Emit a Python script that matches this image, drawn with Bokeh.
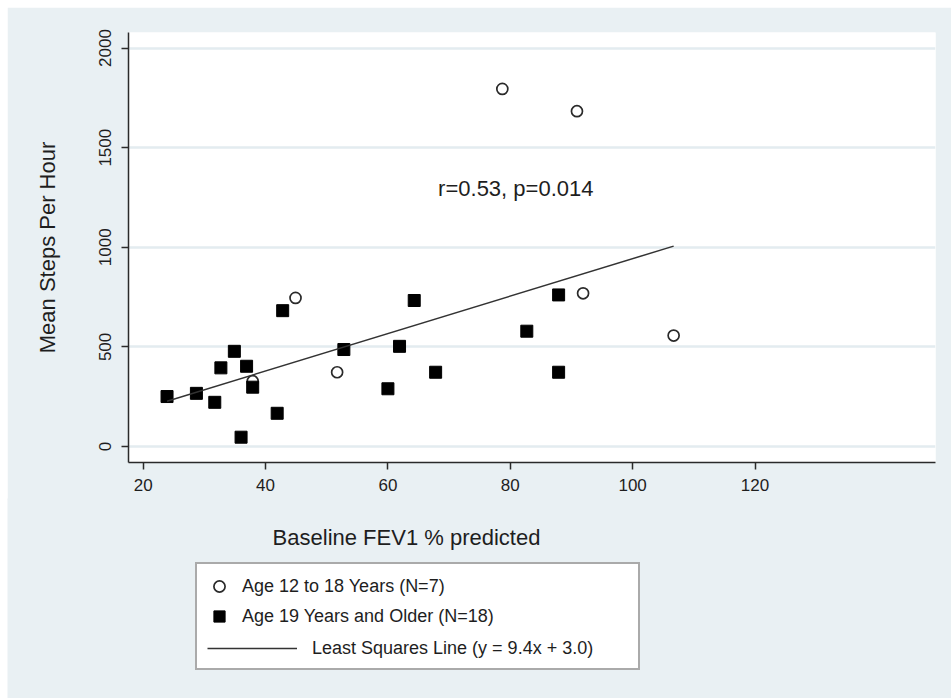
from bokeh.plotting import figure
from bokeh.layouts import column
from bokeh.models import Range1d, FixedTicker, Label, Legend, LegendItem
from bokeh.embed import file_html
from bokeh.resources import INLINE

# ---- data ----
teen_fev1 = [78.7, 90.9, 44.9, 51.7, 91.9, 106.7, 37.9]
teen_steps = [1795, 1683, 746, 373, 769, 557, 328]
adult_fev1 = [23.9, 28.7, 31.7, 32.7, 34.9, 36.0, 36.9, 37.9, 41.9, 42.8,
              52.8, 60.0, 61.9, 64.3, 67.8, 82.7, 87.9, 87.9]
adult_steps = [251, 267, 222, 395, 478, 47, 403, 298, 167, 682,
               487, 290, 503, 733, 373, 579, 761, 373]
slope = 9.4
intercept = 3.0
x_ticks = [20, 40, 60, 80, 100, 120]
y_ticks = [0, 500, 1000, 1500, 2000]
label_teen = "Age 12 to 18 Years (N=7)"
label_adult = "Age 19 Years and Older (N=18)"
label_fit = "Least Squares Line (y = 9.4x + 3.0)"
annotation_text = "r=0.53, p=0.014"
x_title = "Baseline FEV1 % predicted"
y_title = "Mean Steps Per Hour"

all_x = teen_fev1 + adult_fev1
fit_x = [min(all_x), max(all_x)]
fit_y = [slope * v + intercept for v in fit_x]

FONT = "Liberation Sans"
BG = "#e9f0f3"
INK = "#1e1e1e"

teen_style = dict(marker="circle", size=11, fill_color="white",
                  line_color="#2a2a2a", line_width=1.7)
adult_style = dict(marker="square", size=12, fill_color="black",
                   line_color="black", line_width=1)
fit_style = dict(line_color="#333333", line_width=1.5)

# ---------------- main plot ----------------
p = figure(width=944, height=493,
           x_range=Range1d(17.6, 149.5), y_range=Range1d(-80, 2078),
           output_backend="svg", toolbar_location=None,
           min_border_left=121, min_border_right=16,
           min_border_top=25, min_border_bottom=38,
           background_fill_color="white", border_fill_color=BG,
           outline_line_color=None)
p.margin = (7, 0, 0, 7)
p.frame_align = False

p.xaxis.ticker = FixedTicker(ticks=x_ticks)
p.yaxis.ticker = FixedTicker(ticks=y_ticks)
for ax in (p.xaxis[0], p.yaxis[0]):
    ax.axis_line_color = "#2a2a2a"
    ax.axis_line_width = 1.5
    ax.major_tick_line_color = "#2a2a2a"
    ax.major_tick_line_width = 1.5
    ax.major_tick_out = 7
    ax.major_tick_in = 0
    ax.minor_tick_line_color = None
    ax.major_label_text_font = FONT
    ax.major_label_text_font_size = "17px"
    ax.major_label_text_color = INK
p.xaxis.major_label_standoff = 9
p.yaxis.major_label_standoff = 10
p.yaxis.major_label_orientation = "vertical"
p.yaxis.axis_label = y_title
p.yaxis.axis_label_text_font = FONT
p.yaxis.axis_label_text_font_size = "22px"
p.yaxis.axis_label_text_font_style = "normal"
p.yaxis.axis_label_text_color = INK
p.yaxis.axis_label_standoff = 37

p.xgrid.grid_line_color = None
p.ygrid.ticker = FixedTicker(ticks=y_ticks)
p.ygrid.grid_line_color = "#e3ecf0"
p.ygrid.grid_line_width = 2.5

p.scatter(teen_fev1, teen_steps, **teen_style)
p.scatter(adult_fev1, adult_steps, **adult_style)
p.line(fit_x, fit_y, **fit_style)

p.add_layout(Label(x=80.9, y=1293, text=annotation_text, text_align="center",
                   text_baseline="alphabetic", text_font=FONT,
                   text_font_size="22px", text_color=INK))

# ---------------- lower panel: x title + legend ----------------
q = figure(width=944, height=200, x_range=Range1d(0, 944), y_range=Range1d(0, 200),
           output_backend="svg", toolbar_location=None, min_border=0,
           min_border_left=0, min_border_right=0, min_border_top=0, min_border_bottom=0,
           x_axis_location=None, y_axis_location=None,
           background_fill_color=BG, border_fill_color=BG, outline_line_color=None)
q.margin = (-2, 0, 0, 7)
q.frame_align = False
q.xgrid.visible = False
q.ygrid.visible = False

q.add_layout(Label(x=399, y=161, text=x_title, text_align="center",
                   text_baseline="alphabetic", text_font=FONT,
                   text_font_size="22px", text_color=INK))

# legend-only copies of the series (hidden in this panel)
k_teen = q.scatter(teen_fev1, teen_steps, visible=False, **teen_style)
k_adult = q.scatter(adult_fev1, adult_steps, visible=False, **adult_style)
k_fit = q.line(fit_x, fit_y, visible=False, **fit_style)
k_gap = q.line(fit_x, fit_y, visible=False, line_alpha=0)

common = dict(margin=0, label_text_font=FONT, label_text_font_size="18px",
              label_text_color=INK, inactive_fill_alpha=0)
legA = Legend(items=[LegendItem(label=label_teen, renderers=[k_teen]),
                     LegendItem(label=label_adult, renderers=[k_adult]),
                     LegendItem(label=" ", renderers=[k_gap])],
              location=(188, 28), padding=8, spacing=2,
              glyph_width=28, glyph_height=28, label_height=28,
              label_standoff=9, label_width=388,
              border_line_color="#555555", border_line_width=2,
              background_fill_color="white", background_fill_alpha=1, **common)
legB = Legend(items=[LegendItem(label=label_fit, renderers=[k_fit])],
              location=(200, 36), padding=0, spacing=0,
              glyph_width=90, glyph_height=28, label_height=28,
              label_standoff=15,
              border_line_color=None, background_fill_alpha=0, **common)
q.add_layout(legA)
q.add_layout(legB)

layout = column(p, q, spacing=0)
open("out.html", "w").write(file_html(layout, INLINE))
